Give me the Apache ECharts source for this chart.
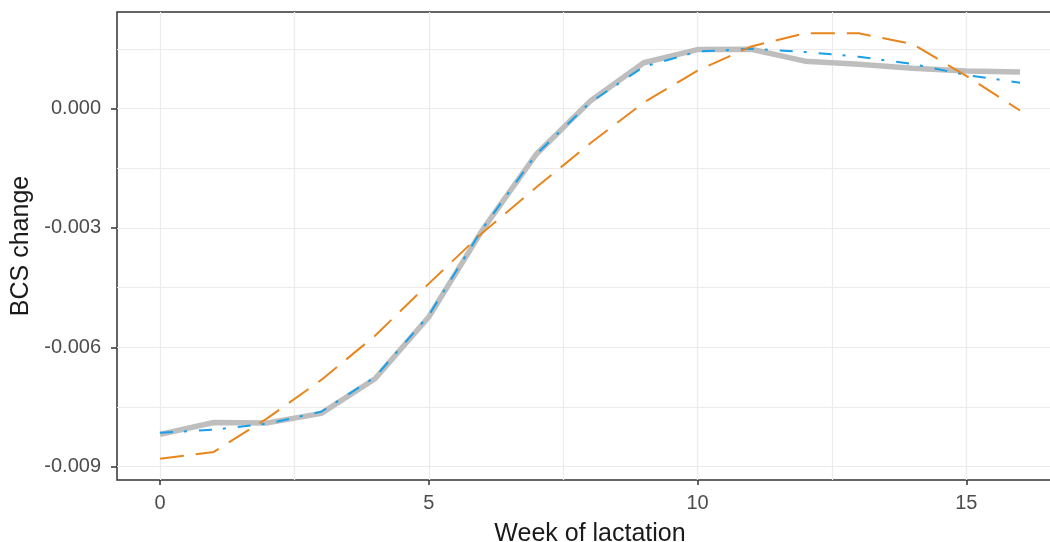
<!DOCTYPE html>
<html>
<head>
<meta charset="utf-8">
<script src="https://cdn.jsdelivr.net/npm/echarts@6/dist/echarts.min.js"></script>
<style>
  html, body { margin: 0; padding: 0; background: #fff; overflow: hidden; }
  #chart { width: 1050px; height: 542px; }
</style>
</head>
<body>
<div id="chart"></div>
<script>
// weeks of lactation
var weeks = [0, 1, 2, 3, 4, 5, 6, 7, 8, 9, 10, 11, 12, 13, 14, 15, 16];

// BCS change
var greyLine   = [-0.00819, -0.00789, -0.00790, -0.00766, -0.00679, -0.00524, -0.00305, -0.00115, 0.00018, 0.00115, 0.00148, 0.00149, 0.00119, 0.00111, 0.00101, 0.00094, 0.00092];
var blueLine   = [-0.00815, -0.00807, -0.00792, -0.00762, -0.00675, -0.00520, -0.00302, -0.00115, 0.00015, 0.00105, 0.00143, 0.00150, 0.00142, 0.00130, 0.00112, 0.00084, 0.00065];
var orangeLine = [-0.00880, -0.00863, -0.00778, -0.00682, -0.00571, -0.00440, -0.00312, -0.00198, -0.00088, 0.00015, 0.00095, 0.00156, 0.00189, 0.00189, 0.00162, 0.00082, -0.00005];

// tick labels and grid positions
var xTicks = [0, 5, 10, 15];
var xGrid = [0, 2.5, 5, 7.5, 10, 12.5, 15];
var yTicks = [-0.009, -0.006, -0.003, 0];
var yGrid = [-0.009, -0.0075, -0.006, -0.0045, -0.003, -0.0015, 0, 0.0015];

function pairs(ys) {
    var out = [];
    for (var i = 0; i < weeks.length; i++) {
        out.push([weeks[i], ys[i]]);
    }
    return out;
}

var myChart = echarts.init(document.getElementById('chart'));

var xMin = -0.8, xMax = 16.8;
var yMin = -0.009335, yMax = 0.002425;
var gridLine = { color: '#ebebeb', width: 1.2 };
var labelFont = { color: '#4d4d4d', fontSize: 20, fontFamily: 'Liberation Sans, Arial, sans-serif' };
var titleFont = { color: '#1a1a1a', fontSize: 25, fontFamily: 'Liberation Sans, Arial, sans-serif' };

var option = {
    animation: false,
    grid: {
        left: 117,
        top: 12,
        width: 946,     // panel runs past the right edge, as in the source image
        height: 468,
        outerBoundsMode: 'none',
        show: true,
        borderColor: '#333333',
        borderWidth: 1.5,
        backgroundColor: 'transparent'
    },
    xAxis: [
        {
            // grid lines only
            type: 'value', min: xMin, max: xMax,
            axisLine: { show: false, onZero: false },
            axisTick: { show: false, customValues: xGrid },
            axisLabel: { show: false, customValues: xGrid },
            splitLine: { show: true, lineStyle: gridLine }
        },
        {
            type: 'value', min: xMin, max: xMax, position: 'bottom',
            name: 'Week of lactation',
            nameLocation: 'middle',
            nameGap: 42,
            nameTextStyle: titleFont,
            axisLine: { show: false, onZero: false },
            axisTick: { show: true, length: 5, customValues: xTicks, lineStyle: { color: '#333333', width: 1.5 } },
            axisLabel: Object.assign({ margin: 13, customValues: xTicks }, labelFont),
            splitLine: { show: false }
        }
    ],
    yAxis: [
        {
            type: 'value', min: yMin, max: yMax,
            axisLine: { show: false, onZero: false },
            axisTick: { show: false, customValues: yGrid },
            axisLabel: { show: false, customValues: yGrid },
            splitLine: { show: true, lineStyle: gridLine }
        },
        {
            type: 'value', min: yMin, max: yMax, position: 'left',
            name: 'BCS change',
            nameLocation: 'middle',
            nameGap: 76,
            nameRotate: 90,
            nameTextStyle: titleFont,
            axisLine: { show: false, onZero: false },
            axisTick: { show: true, length: 6, customValues: yTicks, lineStyle: { color: '#333333', width: 1.5 } },
            axisLabel: Object.assign({
                margin: 16,
                customValues: yTicks,
                formatter: function (v) { return v.toFixed(3); }
            }, labelFont),
            splitLine: { show: false }
        }
    ],
    series: [
        {
            name: 'grey',
            type: 'line',
            data: pairs(greyLine),
            showSymbol: false,
            lineStyle: { color: '#bebebe', width: 5.5, cap: 'butt' }
        },
        {
            name: 'blue',
            type: 'line',
            data: pairs(blueLine),
            showSymbol: false,
            lineStyle: { color: '#1a9fe8', width: 2, type: [13, 11, 3, 12] }
        },
        {
            name: 'orange',
            type: 'line',
            data: pairs(orangeLine),
            showSymbol: false,
            lineStyle: { color: '#e8851c', width: 2, type: [24, 12] }
        }
    ]
};

myChart.setOption(option);
</script>
</body>
</html>
